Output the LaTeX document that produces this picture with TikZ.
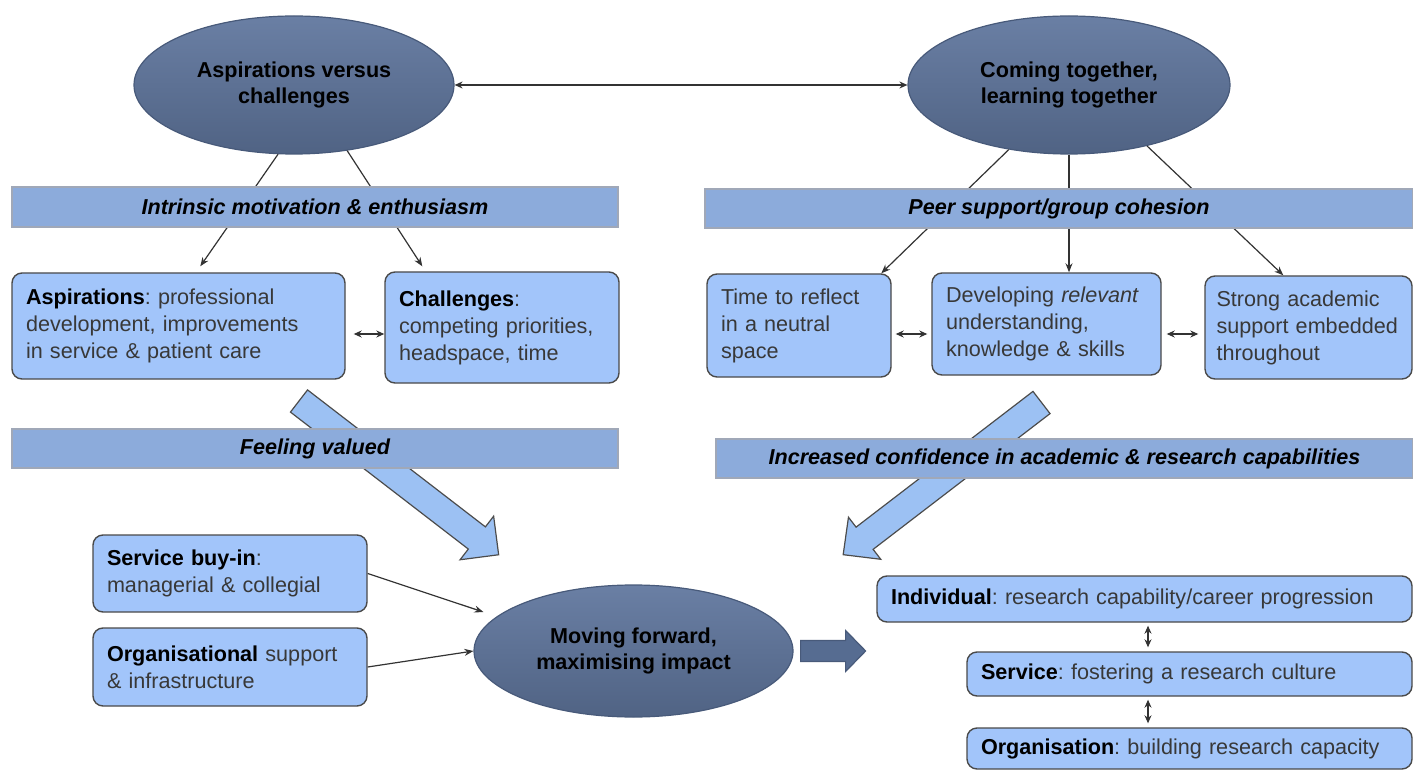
\documentclass[tikz,border=0pt]{standalone}
\usepackage{fontspec}
\setmainfont{Liberation Sans}
\usetikzlibrary{arrows.meta, positioning, shapes.geometric, calc}
\definecolor{CBox}{HTML}{A2C5FA}
\definecolor{CBoxLine}{HTML}{4A4A4A}
\definecolor{CBar}{HTML}{8CABDB}
\definecolor{CBarLine}{HTML}{A0A8B8}
\definecolor{COvalTop}{HTML}{6A7FA4}
\definecolor{COvalBot}{HTML}{506384}
\definecolor{COvalLine}{HTML}{485A7A}
\definecolor{CFat}{HTML}{9CC1F3}
\definecolor{CPush}{HTML}{566C91}
\definecolor{CText}{HTML}{383838}
\newcommand{\kw}[1]{\textcolor{black}{\textbf{#1}}}

\begin{document}
\frenchspacing
\hyphenpenalty=10000
\begin{tikzpicture}[
    x=0.5pt, y=-0.5pt, % pixel grid of the slide, y pointing down
    theme/.style={ellipse, draw=COvalLine, line width=0.6pt, top color=COvalTop, bottom color=COvalBot,
        inner sep=0pt, align=center, text=black, font=\fontsize{10.8}{13}\selectfont\bfseries},
    box/.style={draw=CBoxLine, line width=0.7pt, fill=CBox, rounded corners=5pt, align=left,
        inner xsep=7pt, inner ysep=0pt, text=CText, font=\fontsize{10.8}{13.5}\selectfont},
    band/.style={draw=CBarLine, line width=0.6pt, fill=CBar, inner sep=0pt, minimum height=19.5pt,
        text=black, font=\fontsize{10.8}{13}\selectfont\bfseries\itshape},
    link/.style={draw=black!80, line width=0.6pt, -{Stealth[length=4.5pt, width=3.5pt]}},
    twoway/.style={draw=black!80, line width=0.6pt,
        {Stealth[length=4pt, width=3.5pt]}-{Stealth[length=4pt, width=3.5pt]}},
    fat/.style={fill=CFat, draw=black!70, line width=0.6pt},
    push/.style={fill=CPush, draw=COvalLine, line width=0.6pt}
]

    \useasboundingbox (0,0) rectangle (1413,770);

    % Themes
    \node[theme, minimum width=160pt, minimum height=69pt] (e1) at (294,85) {Aspirations versus\\challenges};
    \node[theme, minimum width=161pt, minimum height=69pt] (e2) at (1069,85) {Coming together,\\learning together};
    \node[theme, minimum width=159.5pt, minimum height=66pt] (e3) at (633.5,651) {Moving forward,\\maximising impact};

    % -------------------------
    % Left: aspirations vs challenges
    % -------------------------
    \node[box, text width=152.5pt, minimum height=53pt] (asp) at (178.5,326)
        {\kw{Aspirations}: professional\\development, improvements\\in service \& patient care};
    \node[box, text width=103pt, minimum height=55.5pt] (chal) at (502,327.5)
        {\kw{Challenges}:\\competing priorities,\\headspace, time};

    % -------------------------
    % Right: coming together
    % -------------------------
    \node[box, text width=78pt, minimum height=51.5pt] (reflect) at (799,325.5)
        {Time to reflect\\in a neutral\\space};
    \node[box, text width=100.5pt, minimum height=51pt] (dev) at (1046.5,324)
        {Developing \textit{relevant}\\understanding,\\knowledge \& skills};
    \node[box, text width=92pt, inner xsep=5.75pt, minimum height=51.5pt] (strong) at (1308.5,327.5)
        {Strong academic\\support embedded\\throughout};

    % Inputs and outcomes of moving forward
    \node[box, text width=123pt, minimum height=38.5pt] (buyin) at (230,573.5)
        {\kw{Service buy-in}:\\managerial \& collegial};
    \node[box, text width=123pt, minimum height=39pt] (infra) at (230,667)
        {\kw{Organisational} support\\\& infrastructure};
    \node[box, text width=253.5pt, minimum height=23pt] (indiv) at (1144.5,599)
        {\kw{Individual}: research capability/career progression};
    \node[box, text width=208.5pt, minimum height=22pt] (servl) at (1189.5,674)
        {\kw{Service}: fostering a research culture};
    \node[box, text width=208.5pt, minimum height=20.5pt] (orgl) at (1189.5,748.5)
        {\kw{Organisation}: building research capacity};

    % Connectors (drawn before the bands, which lie on top)
    \draw[twoway] (e1) -- (e2);
    \draw[link] (e1.257) -- ($(asp.north west)+(189,-6)$);
    \draw[link] (e1.309) -- ($(chal.north west)+(38,-5)$);
    \draw[link] (e2.227) -- ($(reflect.north west)+(175,0)$);
    \draw[link] (e2.south) -- (e2.south |- dev.north);
    \draw[link] (e2.322) -- ($(strong.north west)+(79,0)$);

    \draw[twoway, shorten <=4pt] ($(asp.east)+(0,8)$) -- ($(asp.east -| chal.west)+(0,8)$);
    \draw[twoway, shorten <=2pt, shorten >=2pt] ($(reflect.east)+(0,8.5)$) -- ($(reflect.east -| dev.west)+(0,8.5)$);
    \draw[twoway, shorten <=2.5pt, shorten >=3pt] ($(dev.east)+(0,10)$) -- ($(dev.east -| strong.west)+(0,10)$);
    \draw[twoway, shorten <=1.5pt, shorten >=2pt] ($(indiv.south |- indiv.south)+(3.5,0)$) -- ($(indiv.south |- servl.north)+(3.5,0)$);
    \draw[twoway, shorten <=1.5pt, shorten >=2pt] ($(indiv.south |- servl.south)+(3.5,0)$) -- ($(indiv.south |- orgl.north)+(3.5,0)$);

    \draw[link] (buyin.east) -- ($(e3.west)+(10,-39)$);
    \draw[link] (infra.east) -- (e3.west);

    % Fat arrows into "moving forward"
    \begin{scope}[shift={(299,401)}, rotate=-37.6]
        \filldraw[fat] (0,-14) -- (224.5,-14) -- (224.5,-27.5) -- (252,0) -- (224.5,27.5) -- (224.5,14) -- (0,14) -- cycle;
    \end{scope}
    \begin{scope}[shift={(1041.5,402.5)}, rotate=217.5]
        \filldraw[fat] (0,-14) -- (223,-14) -- (223,-26.5) -- (250,0) -- (223,26.5) -- (223,14) -- (0,14) -- cycle;
    \end{scope}

    % Block arrow towards outcomes
    \begin{scope}[shift={($(e3.east)+(7,0)$)}]
        \filldraw[push] (0,-10.5) -- (45,-10.5) -- (45,-20.5) -- (65,0) -- (45,20.5) -- (45,10.5) -- (0,10.5) -- cycle;
    \end{scope}

    % Bands
    \node[band, minimum width=303pt, minimum height=20pt] (motiv) at (315,207) {Intrinsic motivation \& enthusiasm};
    \node[band, minimum width=354pt] (peer) at (1059,208.5) {Peer support/group cohesion};
    \node[band, minimum width=303pt] (valued) at (315,448.5) {Feeling valued};
    \node[band, minimum width=348.5pt] (conf) at (1064.5,458.5) {Increased confidence in academic \& research capabilities};

\end{tikzpicture}
\end{document}
